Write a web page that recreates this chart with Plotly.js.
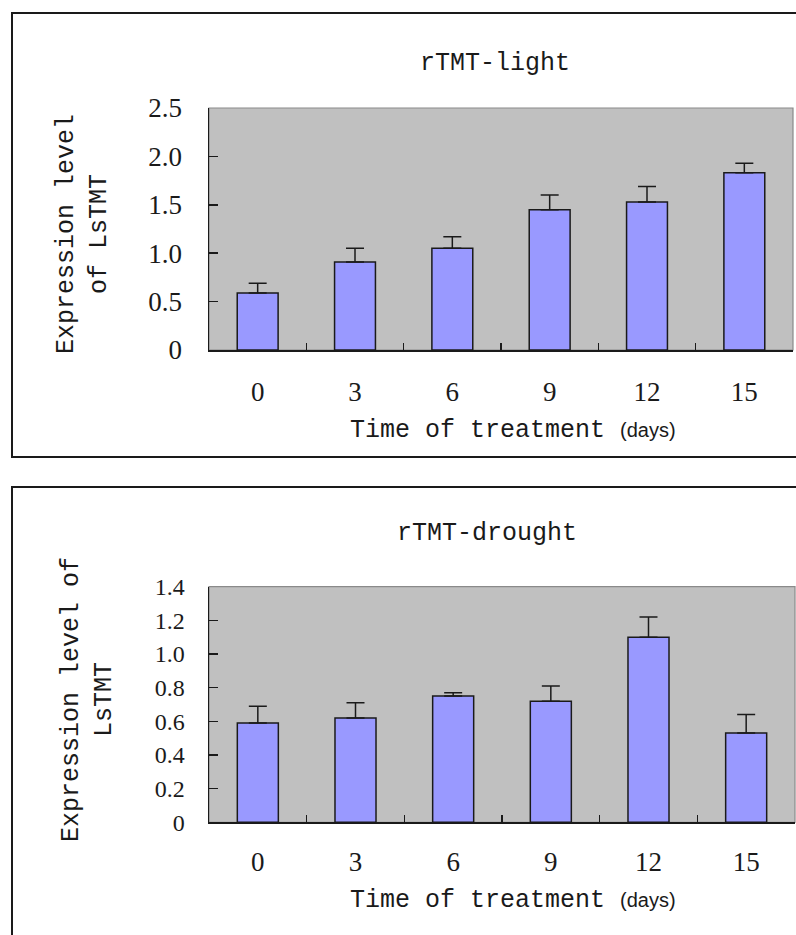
<!DOCTYPE html>
<html>
<head>
<meta charset="utf-8">
<script src="https://cdn.plot.ly/plotly-3.0.1.min.js"></script>
<style>
html,body{margin:0;padding:0;background:#fff;overflow:hidden;}
#chart{width:796px;height:935px;}
</style>
</head>
<body>
<div id="chart"></div>
<script>
// ---- data ----
var days = ["0", "3", "6", "9", "12", "15"];

var lightTitle = "rTMT-light";
var lightMean = [0.59, 0.91, 1.05, 1.45, 1.53, 1.83];
var lightErr  = [0.10, 0.14, 0.12, 0.15, 0.16, 0.10];
var lightTickVals = [0, 0.5, 1.0, 1.5, 2.0, 2.5];
var lightTickText = ["0", "0.5", "1.0", "1.5", "2.0", "2.5"];

var droughtTitle = "rTMT-drought";
var droughtMean = [0.59, 0.62, 0.75, 0.72, 1.10, 0.53];
var droughtErr  = [0.10, 0.09, 0.02, 0.09, 0.12, 0.11];
var droughtTickVals = [0, 0.2, 0.4, 0.6, 0.8, 1.0, 1.2, 1.4];
var droughtTickText = ["0", "0.2", "0.4", "0.6", "0.8", "1.0", "1.2", "1.4"];

var xTitleMain = "Time of treatment";
var xTitleUnit = "(days)";
var yTitleLight = "Expression level<br>of LsTMT";
var yTitleDrought = "Expression level of<br>LsTMT";

// ---- styling helpers ----
var W = 796, H = 935;
function px(x){ return x / W; }
function py(y){ return 1 - y / H; }

var mono = "Liberation Mono, DejaVu Sans Mono, monospace";
var serif = "Liberation Serif, DejaVu Serif, serif";
var txt = "#1a1a1a";

function zeros(n){ var a=[]; for(var i=0;i<n;i++) a.push(0); return a; }

function barTrace(y, err, xa, ya){
  return {
    type: "bar", x: days, y: y, xaxis: xa, yaxis: ya,
    width: 0.42,
    marker: {color: "#9999ff", line: {color: "#1a1a1a", width: 1.5}},
    error_y: {type: "data", symmetric: false, array: err, arrayminus: zeros(err.length),
              color: "#1a1a1a", thickness: 1.5, width: 9},
    showlegend: false, hoverinfo: "x+y"
  };
}

var data = [
  barTrace(lightMean, lightErr, "x", "y"),
  barTrace(droughtMean, droughtErr, "x2", "y2")
];

function xAxis(domain, anchor, standoff){
  return {
    domain: domain, anchor: anchor, type: "category", range: [-0.5, 5.5],
    showline: true, linecolor: "#1a1a1a", linewidth: 1.5,
    ticks: "inside", tickson: "boundaries", ticklen: 7, tickwidth: 1.5, tickcolor: "#1a1a1a",
    showgrid: false, zeroline: false,
    tickfont: {family: serif, size: 27, color: txt},
    ticklabelstandoff: standoff, fixedrange: true
  };
}
function yAxis(domain, anchor, range, vals, text, fs, standoff){
  return {
    domain: domain, anchor: anchor, range: range,
    tickmode: "array", tickvals: vals, ticktext: text,
    showline: true, linecolor: "#1a1a1a", linewidth: 1.5,
    ticks: "inside", ticklen: 9, tickwidth: 1.5, tickcolor: "#1a1a1a",
    showgrid: false, zeroline: false,
    tickfont: {family: serif, size: fs, color: txt},
    ticklabelstandoff: standoff, fixedrange: true
  };
}

var unitSpan = " <span style='font-family:Liberation Sans Narrow, Liberation Sans, sans-serif;font-size:20px'>" + xTitleUnit + "</span>";

var layout = {
  width: W, height: H,
  margin: {l: 0, r: 0, t: 0, b: 0, pad: 0},
  paper_bgcolor: "#ffffff", plot_bgcolor: "#c0c0c0",
  xaxis: xAxis([px(209), px(793)], "y", 17),
  yaxis: yAxis([py(350), py(108)], "x", [0, 2.5], lightTickVals, lightTickText, 27, 20),
  xaxis2: xAxis([px(209), px(795)], "y2", 15),
  yaxis2: yAxis([py(822.3), py(586.7)], "x2", [0, 1.4], droughtTickVals, droughtTickText, 24, 18),
  shapes: [
    // outer panel frames
    {type: "rect", xref: "paper", yref: "paper", x0: px(12), x1: 1.05, y0: py(457), y1: py(13),
     line: {color: "#1a1a1a", width: 2}, layer: "below"},
    {type: "rect", xref: "paper", yref: "paper", x0: px(12), x1: 1.05, y0: -0.05, y1: py(487),
     line: {color: "#1a1a1a", width: 2}, layer: "below"},
    // plot area frames (grey top/right)
    {type: "rect", xref: "x domain", yref: "y domain", x0: 0, x1: 1, y0: 0, y1: 1,
     line: {color: "#8a8a8a", width: 1.2}, layer: "below"},
    {type: "rect", xref: "x2 domain", yref: "y2 domain", x0: 0, x1: 1, y0: 0, y1: 1,
     line: {color: "#8a8a8a", width: 1.2}, layer: "below"}
  ],
  annotations: [
    {text: lightTitle, xref: "paper", yref: "paper", x: px(495), y: py(63),
     xanchor: "center", yanchor: "middle", showarrow: false,
     font: {family: mono, size: 25, color: txt}},
    {text: droughtTitle, xref: "paper", yref: "paper", x: px(487), y: py(533),
     xanchor: "center", yanchor: "middle", showarrow: false,
     font: {family: mono, size: 25, color: txt}},
    {text: xTitleMain + unitSpan, xref: "paper", yref: "paper", x: px(348), y: py(430),
     xanchor: "left", yanchor: "middle", showarrow: false,
     font: {family: mono, size: 25, color: txt}},
    {text: xTitleMain + unitSpan, xref: "paper", yref: "paper", x: px(348), y: py(900),
     xanchor: "left", yanchor: "middle", showarrow: false,
     font: {family: mono, size: 25, color: txt}},
    {text: yTitleLight, xref: "paper", yref: "paper", x: px(83), y: py(234),
     xanchor: "center", yanchor: "middle", showarrow: false, textangle: -90,
     font: {family: mono, size: 25, color: txt}},
    {text: yTitleDrought, xref: "paper", yref: "paper", x: px(88), y: py(700),
     xanchor: "center", yanchor: "middle", showarrow: false, textangle: -90,
     font: {family: mono, size: 25, color: txt}}
  ]
};

Plotly.newPlot("chart", data, layout, {displayModeBar: false, staticPlot: true});
</script>
</body>
</html>
